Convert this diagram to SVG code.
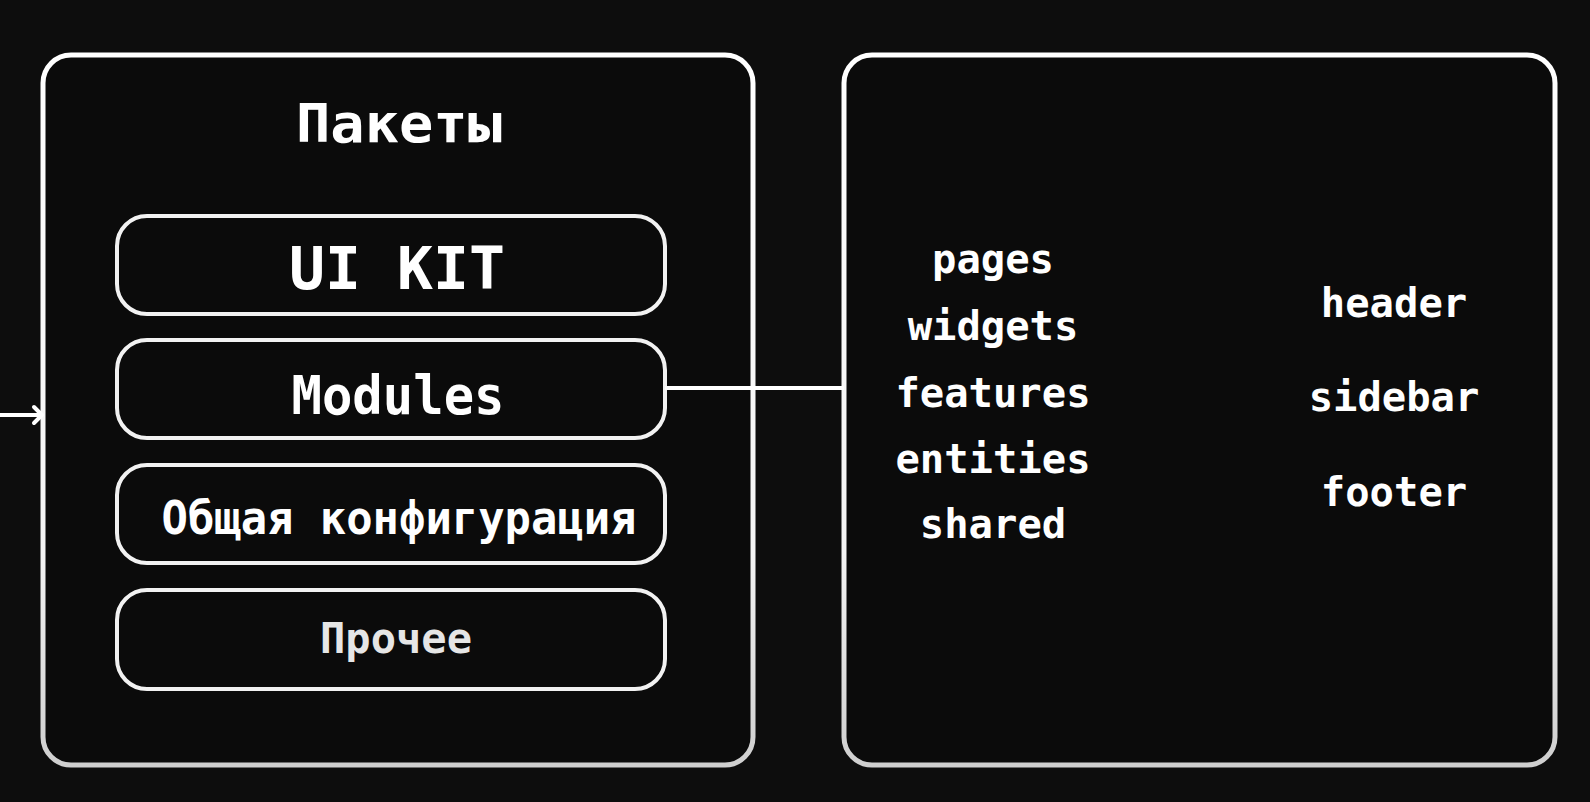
<svg xmlns="http://www.w3.org/2000/svg" width="1590" height="802" viewBox="0 0 1590 802">
<defs>
<linearGradient id="gs" x1="0" y1="0" x2="0" y2="1">
<stop offset="0" stop-color="#ffffff"/>
<stop offset="0.7" stop-color="#f4f4f4"/>
<stop offset="1" stop-color="#cfcfcf"/>
</linearGradient>
<style>
.outer{fill:#0b0b0b;stroke:url(#gs);stroke-width:5}
.inner{fill:#0b0b0b;stroke:#f2f2f2;stroke-width:4}
.t{font-family:"DejaVu Sans Mono","Liberation Mono",monospace;font-weight:bold;fill:#ffffff;text-anchor:middle}
.conn{stroke:#ffffff;stroke-width:4;fill:none}
</style>
</defs>
<rect width="1590" height="802" fill="#0d0d0d"/>
<g id="packages">
<rect class="outer" x="43" y="55" width="710" height="710" rx="28"/>
<text class="t" x="399" y="142" font-size="54" textLength="206" lengthAdjust="spacingAndGlyphs">Пакеты</text>
</g>
<g id="ui-kit">
<rect class="inner" x="117" y="216" width="548" height="98" rx="30"/>
<text class="t" x="397" y="289" font-size="59" textLength="216" lengthAdjust="spacingAndGlyphs">UI KIT</text>
</g>
<g id="modules">
<rect class="inner" x="117" y="340" width="548" height="98" rx="30"/>
<text class="t" x="398" y="414" font-size="54" textLength="213" lengthAdjust="spacingAndGlyphs">Modules</text>
</g>
<g id="config">
<rect class="inner" x="117" y="465" width="548" height="98" rx="30"/>
<text class="t" x="399" y="534" font-size="46" textLength="475" lengthAdjust="spacingAndGlyphs">Общая конфигурация</text>
</g>
<g id="other">
<rect class="inner" x="117" y="590" width="548" height="99" rx="30"/>
<text class="t" x="396" y="653" font-size="43" textLength="152" lengthAdjust="spacingAndGlyphs" style="fill:#e6e6e6">Прочее</text>
</g>
<g id="structure">
<rect class="outer" x="844" y="55" width="711" height="710" rx="28"/>
<text class="t" x="993" y="273" font-size="40.5">pages</text>
<text class="t" x="993" y="340" font-size="40.5">widgets</text>
<text class="t" x="993" y="407" font-size="40.5">features</text>
<text class="t" x="993" y="473" font-size="40.5">entities</text>
<text class="t" x="993" y="538" font-size="40.5">shared</text>
<text class="t" x="1394" y="317" font-size="40.5">header</text>
<text class="t" x="1394" y="411" font-size="40.5">sidebar</text>
<text class="t" x="1394" y="506" font-size="40.5">footer</text>
</g>
<g id="connectors">
<path class="conn" d="M665 388 H844"/>
<path class="conn" stroke-width="3" d="M0 415 H42"/>
<path class="conn" stroke-width="3" stroke-linecap="round" stroke-linejoin="round" d="M34 407 L42 415 L34 423"/>
</g>
</svg>
